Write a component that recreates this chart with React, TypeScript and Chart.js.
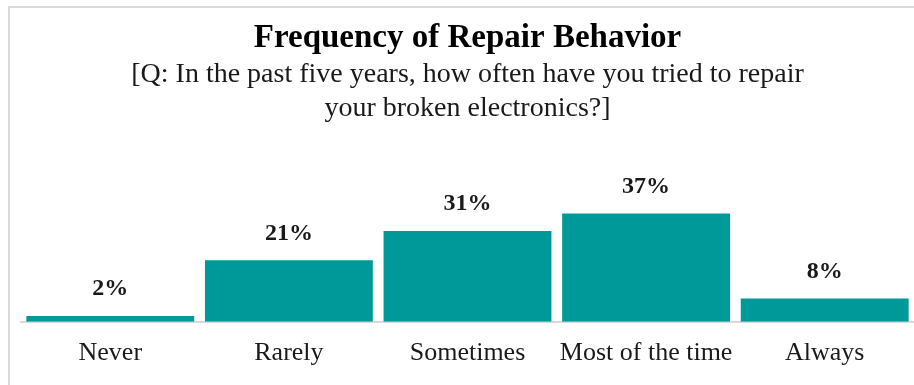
import React, { useEffect, useRef } from "react";
import { Chart, registerables } from "chart.js";

Chart.register(...registerables);

const categories = ["Never", "Rarely", "Sometimes", "Most of the time", "Always"];
const values = [2, 21, 31, 37, 8];
const valueLabels = ["2%", "21%", "31%", "37%", "8%"];
const titleText = "Frequency of Repair Behavior";
const subtitleLines = [
  "[Q: In the past five years, how often have you tried to repair",
  "your broken electronics?]",
];

const FONT = "'Liberation Serif', 'Times New Roman', serif";

const labelPlugin = {
  id: "barLabels",
  afterDatasetsDraw(chart: any) {
    const ctx = chart.ctx;
    const meta = chart.getDatasetMeta(0);
    ctx.save();
    ctx.font = `bold 24px ${FONT}`;
    ctx.fillStyle = "#1a1a1a";
    ctx.textAlign = "center";
    ctx.textBaseline = "bottom";
    meta.data.forEach((bar: any, i: number) => {
      ctx.fillText(valueLabels[i], bar.x, bar.y - 15);
    });
    ctx.restore();
  },
};

export default function App() {
  const ref = useRef<HTMLCanvasElement>(null);
  useEffect(() => {
    if (!ref.current) return;
    const chart = new Chart(ref.current, {
      type: "bar",
      data: {
        labels: categories,
        datasets: [
          {
            data: values,
            backgroundColor: "#009999",
            borderWidth: 0,
            categoryPercentage: 1,
            barPercentage: 0.94,
          },
        ],
      },
      options: {
        animation: false,
        responsive: false,
        layout: { padding: { left: 11, right: 0, top: 12, bottom: 0 } },
        plugins: {
          legend: { display: false },
          tooltip: { enabled: false },
          title: {
            display: true,
            text: titleText,
            color: "#000",
            font: { family: FONT, size: 33, weight: "bold", lineHeight: 1.1 },
            padding: { top: 0, bottom: 2 },
          },
          subtitle: {
            display: true,
            text: subtitleLines,
            color: "#1a1a1a",
            font: { family: FONT, size: 28, weight: "normal", lineHeight: 1.2 },
            padding: { top: 0, bottom: 50 },
          },
        },
        scales: {
          x: {
            grid: { display: false, drawTicks: false },
            border: { display: true, color: "#d9d9d9", width: 2 },
            ticks: {
              color: "#1a1a1a",
              font: { family: FONT, size: 26 },
              padding: 16,
              maxRotation: 0,
            },
          },
          y: {
            display: false,
            min: 0,
            max: 50,
          },
        },
      },
      plugins: [labelPlugin],
    });
    return () => chart.destroy();
  }, []);
  return (
    <div
      style={{
        position: "fixed",
        left: 8,
        top: 6,
        width: 930,
        height: 400,
        border: "2px solid #d9d9d9",
        background: "#fff",
      }}
    >
      <canvas ref={ref} width={904} height={377} style={{ display: "block" }} />
    </div>
  );
}
